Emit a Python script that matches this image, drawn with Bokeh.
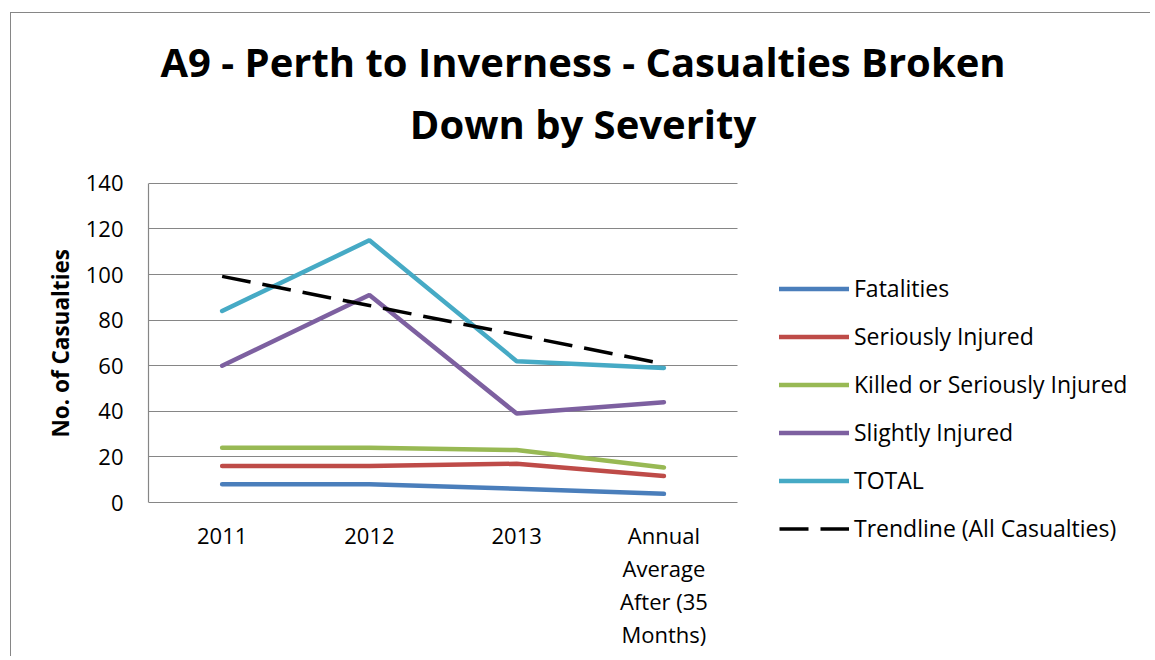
from bokeh.plotting import figure
from bokeh.models import (FixedTicker, Legend, LegendItem, Label, ColumnDataSource, Range1d)
from bokeh.embed import file_html
from bokeh.resources import INLINE

categories = ["2011", "2012", "2013", "Annual\nAverage\nAfter (35\nMonths)"]
fatalities = [8, 8, 6, 3.8]
seriously_injured = [16, 16, 17, 11.6]
ksi = [24, 24, 23, 15.4]
slightly_injured = [60, 91, 39, 44]
total = [84, 115, 62, 59]
trendline = [99.2, 86.4, 73.6, 60.8]
y_ticks = [0, 20, 40, 60, 80, 100, 120, 140]

series_names = ["Fatalities", "Seriously Injured", "Killed or Seriously Injured",
                "Slightly Injured", "TOTAL", "Trendline (All Casualties)"]
colors = ["#4A7EBB", "#BE4B48", "#98B954", "#7D60A0", "#46AAC5", "#000000"]
title_line1 = "A9 - Perth to Inverness - Casualties Broken"
title_line2 = "Down by Severity"
y_label = "No. of Casualties"

FONT = "Open Sans"
GRID = "#868686"
DASH = "29 12"

x_idx = list(range(len(categories)))
n = len(categories)

# frame spans the whole chart area; the plotted region is limited by axis/grid bounds
p = figure(width=1140, height=644, output_backend="svg", toolbar_location=None,
           x_range=Range1d(-0.5, 6.311), y_range=Range1d(-25.44, 214.5),
           min_border_left=137, min_border_top=0, min_border_right=0,
           min_border_bottom=97, title=None)
p.margin = (12, 0, 0, 10)
p.styles = {"border-left": "1.5px solid #868686", "border-top": "1.5px solid #868686"}
p.outline_line_color = None

p.xgrid.grid_line_color = None
p.ygrid.grid_line_color = GRID
p.ygrid.grid_line_width = 1.2
p.ygrid.cross_bounds = (-0.5, n - 0.5)
p.yaxis.ticker = FixedTicker(ticks=y_ticks)
p.yaxis.bounds = (y_ticks[0], y_ticks[-1])
p.xaxis.ticker = FixedTicker(ticks=x_idx)
p.xaxis.major_label_overrides = {i: c for i, c in zip(x_idx, categories)}
p.xaxis.bounds = (-0.5, n - 0.5)

for ax in (p.xaxis[0], p.yaxis[0]):
    ax.axis_line_color = GRID
    ax.axis_line_width = 1.2
    ax.major_tick_line_color = None
    ax.minor_tick_line_color = None
    ax.major_tick_out = 0
    ax.major_tick_in = 0
    ax.major_label_text_font = FONT
    ax.major_label_text_font_size = "22px"
    ax.major_label_text_color = "#000000"

p.xaxis.axis_line_color = None
p.yaxis.major_label_standoff = 25
# trailing em spaces shift the centred label down to the middle of the 0-140 span
p.yaxis.axis_label = y_label + "\u2003" * 5
p.yaxis.axis_label_text_font = FONT
p.yaxis.axis_label_text_font_size = "22.5px"
p.yaxis.axis_label_text_font_style = "bold"
p.yaxis.axis_label_text_color = "#000000"
p.yaxis.axis_label_standoff = 7

p.xaxis.major_label_standoff = -41
p.xaxis.major_label_text_line_height = 1.1
p.xaxis.major_label_orientation = "horizontal"

src = ColumnDataSource(data=dict(x=x_idx, f=fatalities, s=seriously_injured, k=ksi,
                                 sl=slightly_injured, t=total, tr=trendline))
cols = ["f", "s", "k", "sl", "t", "tr"]
items = []
for name, col, c in zip(series_names, cols, colors):
    if col == "tr":
        r = p.line("x", col, source=src, line_color=c, line_width=3.5, line_dash=DASH)
    else:
        r = p.line("x", col, source=src, line_color=c, line_width=4.5, line_cap="round")
    items.append(LegendItem(label=name, renderers=[r]))

legend = Legend(items=items, location=(631, 16), padding=0, margin=0,
                glyph_width=70, glyph_height=31, label_height=31, spacing=16,
                label_standoff=5, label_text_font=FONT, label_text_font_size="23px",
                label_text_color="#000000",
                border_line_color=None, background_fill_alpha=0)
p.add_layout(legend, "center")

for txt, yy in ((title_line1, 499.5), (title_line2, 437.5)):
    p.add_layout(Label(x=434.5, y=yy, x_units="screen", y_units="screen", text=txt,
                       text_align="center", text_baseline="middle", text_font=FONT,
                       text_font_size="40px", text_font_style="bold", text_color="#000000"))

open("out.html", "w").write(file_html(p, INLINE))
